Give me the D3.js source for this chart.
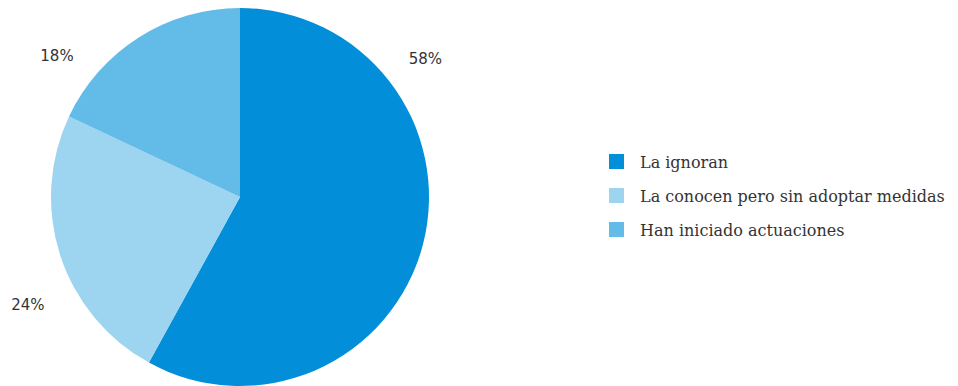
<!DOCTYPE html>
<html>
<head>
<meta charset="utf-8">
<script src="https://cdn.jsdelivr.net/npm/d3@7"></script>
<style>
  html, body { margin: 0; padding: 0; background: #ffffff; }
  svg { display: block; }
</style>
</head>
<body>
<svg id="chart" width="958" height="386"></svg>
<script>
// Categories and their shares (%)
const categories = ["La ignoran", "La conocen pero sin adoptar medidas", "Han iniciado actuaciones"];
const values = [58, 24, 18];
const colors = ["#028ed8", "#9dd4f0", "#63bce8"];

const svg = d3.select("#chart");
const cx = 240, cy = 197, R = 189;

const pie = d3.pie().sort(null).value(d => d.value);
const data = categories.map((c, i) => ({ name: c, value: values[i], color: colors[i] }));
const arcs = pie(data);
const arc = d3.arc().innerRadius(0).outerRadius(R);

const g = svg.append("g").attr("transform", `translate(${cx},${cy})`);
g.selectAll("path.slice")
  .data(arcs)
  .join("path")
  .attr("class", "slice")
  .attr("d", arc)
  .attr("fill", d => d.data.color);

// Percentage labels placed outside the pie, nudged toward open space
const labelShift = [-51, -9, -20]; // degrees relative to slice mid-angle
const labelR = [231, 238, 231];
const labelPos = (d, i) => {
  const a = (d.startAngle + d.endAngle) / 2 + labelShift[i] * Math.PI / 180;
  return [Math.sin(a) * labelR[i], -Math.cos(a) * labelR[i]];
};
g.selectAll("text.pct")
  .data(arcs)
  .join("text")
  .attr("class", "pct")
  .attr("x", (d, i) => labelPos(d, i)[0])
  .attr("y", (d, i) => labelPos(d, i)[1])
  .attr("text-anchor", "middle")
  .attr("dominant-baseline", "central")
  .attr("font-family", "'DejaVu Sans', sans-serif")
  .attr("font-size", 15)
  .attr("fill", "#333")
  .text(d => d.data.value + "%");

// Legend
const legend = svg.append("g").attr("transform", "translate(609,154)");
const item = legend.selectAll("g.item")
  .data(data)
  .join("g")
  .attr("class", "item")
  .attr("transform", (d, i) => `translate(0,${i * 34})`);
item.append("rect")
  .attr("width", 15).attr("height", 15)
  .attr("fill", d => d.color);
item.append("text")
  .attr("x", 31).attr("y", 8)
  .attr("dominant-baseline", "central")
  .attr("font-family", "'DejaVu Serif', serif")
  .attr("font-size", 16)
  .attr("fill", "#333")
  .text(d => d.name);
</script>
</body>
</html>
